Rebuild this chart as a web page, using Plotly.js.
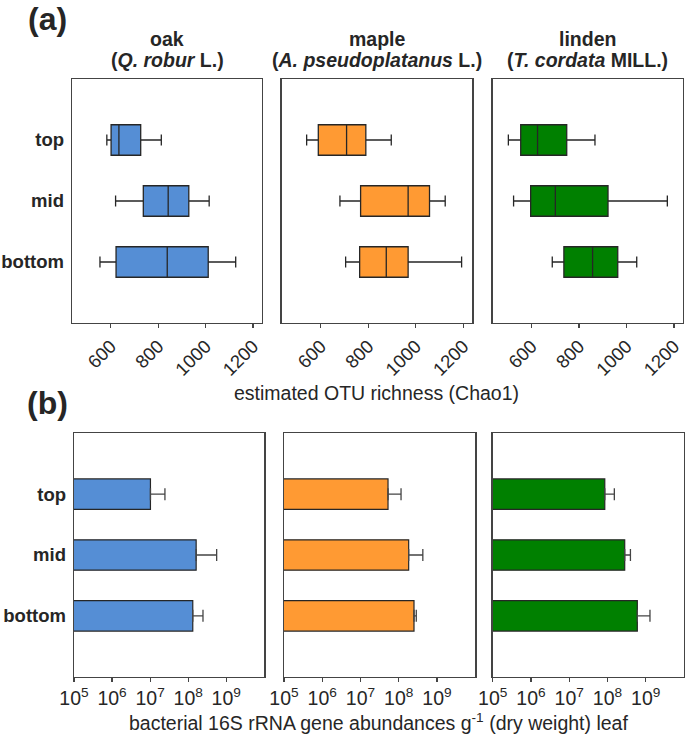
<!DOCTYPE html>
<html>
<head>
<meta charset="utf-8">
<script src="https://cdn.plot.ly/plotly-3.0.1.min.js"></script>
<style>html,body{margin:0;padding:0;background:#fff;}#chart{width:685px;height:739px;}</style>
</head>
<body>
<div id="chart"></div>
<script>
// ---------- data ----------
const rows = ['top', 'mid', 'bottom'];
const rowOrder = ['bottom', 'mid', 'top'];

// (a) estimated OTU richness (Chao1) – box statistics per canopy position (top, mid, bottom)
const oakLo  = [583, 620, 554];
const oakQ1  = [601, 737, 622];
const oakMed = [634, 842, 838];
const oakQ3  = [726, 929, 1011];
const oakHi  = [813, 1015, 1127];

const mapleLo  = [541, 681, 705];
const mapleQ1  = [590, 768, 764];
const mapleMed = [709, 968, 876];
const mapleQ3  = [790, 1058, 968];
const mapleHi  = [897, 1124, 1193];

const lindenLo  = [502, 524, 687];
const lindenQ1  = [554, 596, 736];
const lindenMed = [625, 700, 857];
const lindenQ3  = [748, 922, 963];
const lindenHi  = [867, 1172, 1043];

// (b) bacterial 16S rRNA gene abundances – mean and upper error-bar end
const oakAbund    = [1.02e7, 1.62e8, 1.32e8];
const oakUpper    = [2.45e7, 5.6e8, 2.45e8];
const mapleAbund  = [5.25e7, 1.82e8, 2.51e8];
const mapleUpper  = [1.15e8, 4.27e8, 2.88e8];
const lindenAbund = [8.5e7, 2.82e8, 6.03e8];
const lindenUpper = [1.51e8, 3.98e8, 1.29e9];

const richTicks = [600, 800, 1000, 1200];
const abundTickVals = [1e5, 1e6, 1e7, 1e8, 1e9];
const abundTickText = ['10<sup>5</sup>', '10<sup>6</sup>', '10<sup>7</sup>', '10<sup>8</sup>', '10<sup>9</sup>'];

const speciesNames = ['oak', 'maple', 'linden'];
const speciesLatin = ['(<i>Q. robur</i> L.)', '(<i>A. pseudoplatanus</i> L.)', '(<i>T. cordata</i> MILL.)'];

// ---------- styling ----------
const colors = ['#558ED5', '#FF9A33', '#008000'];
const FONT = 'Liberation Sans, Arial, sans-serif';
const W = 685, H = 739;
const px = v => v / W;
const py = v => 1 - v / H;

const boxSets = [
  [oakLo, oakQ1, oakMed, oakQ3, oakHi],
  [mapleLo, mapleQ1, mapleMed, mapleQ3, mapleHi],
  [lindenLo, lindenQ1, lindenMed, lindenQ3, lindenHi]
];
const barSets = [[oakAbund, oakUpper], [mapleAbund, mapleUpper], [lindenAbund, lindenUpper]];

const topX = [[72, 262], [281.7, 472.3], [492.7, 683]];
const botX = [[74, 264.3], [284, 475.2], [492.7, 684]];
const topY = [79, 323];
const botY = [433.3, 676.7];

const data = [];
const layout = {
  width: W, height: H,
  margin: {l: 0, r: 0, t: 0, b: 0},
  paper_bgcolor: '#fff', plot_bgcolor: '#fff',
  showlegend: false,
  font: {family: FONT, color: '#262626'},
  annotations: []
};

function yAxis(domain, showLabels) {
  return {
    domain: domain, type: 'category', categoryarray: rowOrder, categoryorder: 'array',
    range: [-1, 3], showline: true, mirror: true, linecolor: '#444', linewidth: 1.3,
    showgrid: false, zeroline: false, ticks: '', showticklabels: showLabels,
    tickfont: {family: FONT, size: 18.5, color: '#262626', weight: 'bold'},
    ticklabelstandoff: 3, fixedrange: true
  };
}

for (let i = 0; i < 3; i++) {
  const n = i + 1, m = i + 4;
  const [lo, q1, med, q3, hi] = boxSets[i];
  data.push({
    type: 'box', orientation: 'h', xaxis: 'x' + n, yaxis: 'y' + n,
    y: rows, lowerfence: lo, q1: q1, median: med, q3: q3, upperfence: hi,
    width: 0.5, whiskerwidth: 0.36,
    fillcolor: colors[i], line: {color: '#262626', width: 1.3},
    hoverinfo: 'skip'
  });
  layout['xaxis' + n] = {
    domain: [px(topX[i][0]), px(topX[i][1])], anchor: 'y' + n,
    range: [436, 1238], tickvals: richTicks, tickangle: -45,
    ticks: 'outside', ticklen: 4, tickcolor: '#444', tickwidth: 1.2,
    showline: true, mirror: true, linecolor: '#444', linewidth: 1.3,
    showgrid: false, zeroline: false,
    tickfont: {family: FONT, size: 18.5, color: '#262626'}
  };
  layout['yaxis' + n] = yAxis([py(topY[1]), py(topY[0])], i === 0);
  layout['yaxis' + n].anchor = 'x' + n;

  const [vals, upper] = barSets[i];
  data.push({
    type: 'bar', orientation: 'h', xaxis: 'x' + m, yaxis: 'y' + m,
    y: rows, x: vals, width: 0.5,
    marker: {color: colors[i], line: {color: '#262626', width: 1.2}},
    error_x: {type: 'data', symmetric: false,
      array: upper.map((u, k) => u - vals[k]), arrayminus: vals.map(() => 0),
      color: '#444', thickness: 1.3, width: 6},
    hoverinfo: 'skip'
  });
  layout['xaxis' + m] = {
    domain: [px(botX[i][0]), px(botX[i][1])], anchor: 'y' + m,
    type: 'log', range: [5, 10], tickvals: abundTickVals, ticktext: abundTickText,
    ticks: 'outside', ticklen: 4, tickcolor: '#444', tickwidth: 1.2,
    showline: true, mirror: true, linecolor: '#444', linewidth: 1.3,
    showgrid: false, zeroline: false,
    tickfont: {family: FONT, size: 19.5, color: '#262626'}
  };
  layout['yaxis' + m] = yAxis([py(botY[1]), py(botY[0])], i === 0);
  layout['yaxis' + m].anchor = 'x' + m;

  const cx = px((topX[i][0] + topX[i][1]) / 2);
  layout.annotations.push({
    xref: 'paper', yref: 'paper', x: cx, y: py(39), xanchor: 'center', yanchor: 'middle',
    text: '<b>' + speciesNames[i] + '</b>', showarrow: false,
    font: {family: FONT, size: 19.5, color: '#262626'}
  });
  layout.annotations.push({
    xref: 'paper', yref: 'paper', x: cx, y: py(60), xanchor: 'center', yanchor: 'middle',
    text: '<b>' + speciesLatin[i] + '</b>', showarrow: false,
    font: {family: FONT, size: 19.5, color: '#262626'}
  });
}

layout.annotations.push(
  {xref: 'paper', yref: 'paper', x: px(47), y: py(19), xanchor: 'center', yanchor: 'middle',
   text: '<b>(a)</b>', showarrow: false, font: {family: FONT, size: 32, color: '#262626'}},
  {xref: 'paper', yref: 'paper', x: px(47), y: py(403), xanchor: 'center', yanchor: 'middle',
   text: '<b>(b)</b>', showarrow: false, font: {family: FONT, size: 32, color: '#262626'}},
  {xref: 'paper', yref: 'paper', x: px(376), y: py(393), xanchor: 'center', yanchor: 'middle',
   text: 'estimated OTU richness (Chao1)', showarrow: false, font: {family: FONT, size: 19.5, color: '#262626'}},
  {xref: 'paper', yref: 'paper', x: px(378), y: py(722), xanchor: 'center', yanchor: 'middle',
   text: 'bacterial 16S rRNA gene abundances g<sup>-1</sup> (dry weight) leaf', showarrow: false,
   font: {family: FONT, size: 19.5, color: '#262626'}}
);

Plotly.newPlot('chart', data, layout, {staticPlot: true, displayModeBar: false});
</script>
</body>
</html>
